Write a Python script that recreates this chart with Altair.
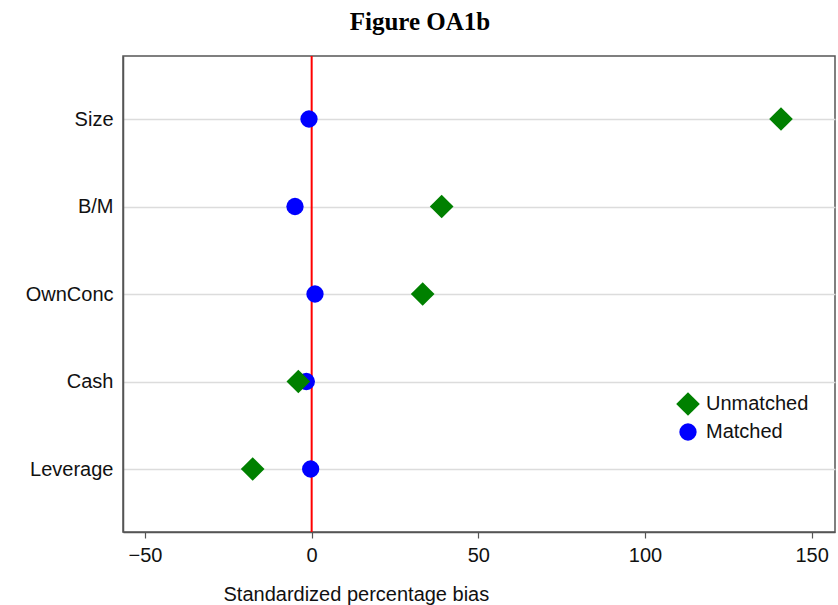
import altair as alt
import pandas as pd

variables = ["Size", "B/M", "OwnConc", "Cash", "Leverage"]
unmatched = [140.8, 39.0, 33.3, -4.0, -17.7]
matched = [-0.8, -5.0, 1.0, -1.6, -0.3]
groups = ["Unmatched", "Matched"]
x_ticks = [-50, 0, 50, 100, 150]

rows = []
for v, m in zip(variables, matched):
    rows.append({"var": v, "bias": m, "sample": "Matched"})
for v, u in zip(variables, unmatched):
    rows.append({"var": v, "bias": u, "sample": "Unmatched"})
df = pd.DataFrame(rows)

FONT = "Liberation Sans"
FS = 20

xscale = alt.Scale(domain=[-56.6, 157], nice=False, zero=False)

rule = alt.Chart(pd.DataFrame({"z": [0]})).mark_rule(color="#FF0000", strokeWidth=2).encode(
    x=alt.X("z:Q", scale=xscale)
)

points = alt.Chart(df).mark_point(filled=True, opacity=1).encode(
    x=alt.X(
        "bias:Q",
        scale=xscale,
        axis=alt.Axis(
            values=x_ticks,
            grid=False,
            title="Standardized percentage bias",
            titleFont=FONT,
            titleFontSize=FS,
            titleFontWeight="normal",
            titleColor="#111",
            titleAnchor="start",
            titleAlign="left",
            titleX=100,
            titleY=52,
            labelFont=FONT,
            labelFontSize=FS,
            labelColor="#111",
            labelPadding=7,
            tickSize=6,
            tickColor="#555",
            domainColor="#555",
            domainWidth=1.5,
            tickWidth=1.2,
        ),
    ),
    y=alt.Y(
        "var:N",
        sort=variables,
        scale=alt.Scale(type="point", padding=0.72),
        axis=alt.Axis(
            title=None,
            grid=True,
            gridColor="#dcdcdc",
            gridWidth=1.5,
            ticks=False,
            labelFont=FONT,
            labelFontSize=FS,
            labelColor="#111",
            labelPadding=10,
            domainColor="#555",
            domainWidth=1.5,
        ),
    ),
    color=alt.Color(
        "sample:N",
        scale=alt.Scale(domain=groups, range=["#008000", "#0000FF"]),
        legend=alt.Legend(
            title=None,
            orient="none",
            legendX=553,
            legendY=336,
            labelFont=FONT,
            labelFontSize=FS,
            labelColor="#111",
            labelOffset=6,
            rowPadding=6,
            symbolStrokeWidth=0,
        ),
    ),
    shape=alt.Shape(
        "sample:N",
        scale=alt.Scale(domain=groups, range=["diamond", "circle"]),
    ),
    size=alt.Size(
        "sample:N",
        scale=alt.Scale(domain=groups, range=[560, 300]),
    ),
)

chart = (
    alt.layer(rule, points)
    .properties(
        width=712,
        height=476,
        title=alt.TitleParams(
            "Figure OA1b",
            font="Liberation Serif",
            fontSize=25,
            fontWeight="bold",
            color="#000",
            anchor="middle",
            dx=-59,
            offset=20,
        ),
        autosize=alt.AutoSizeParams(type="none"),
        padding={"left": 123, "top": 56, "right": 3, "bottom": 73},
    )
    .configure_view(stroke="#555", strokeWidth=1.5)
)

chart.save("out.html", embed_options={"renderer": "svg", "actions": False})
